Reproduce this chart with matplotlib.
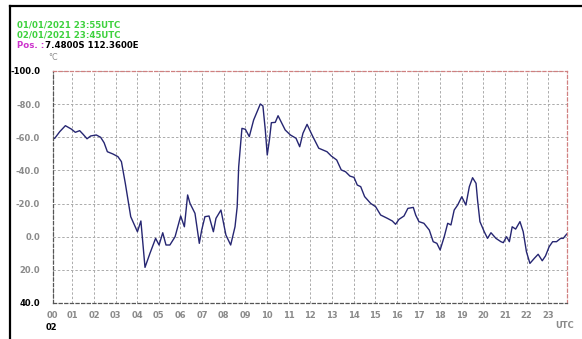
import matplotlib
matplotlib.use("Agg")
import matplotlib.pyplot as plt
from matplotlib.lines import Line2D

# ---- data ----
hours = [0.03, 0.19, 0.42, 0.68, 0.95, 1.14, 1.34, 1.50, 1.68, 1.85, 2.11, 2.31, 2.47, 2.62,
         2.88, 3.11, 3.27, 3.45, 3.70, 4.01, 4.17, 4.36, 4.59, 4.85, 5.01, 5.18, 5.33, 5.51,
         5.75, 6.01, 6.18, 6.33, 6.44, 6.67, 6.87, 6.98, 7.13, 7.32, 7.52, 7.64, 7.87, 8.10,
         8.32, 8.52, 8.62, 8.69, 8.84, 9.00, 9.18, 9.38, 9.69, 9.81, 9.92, 10.01, 10.11, 10.20,
         10.38, 10.51, 10.84, 11.08, 11.34, 11.51, 11.66, 11.85, 12.08, 12.39, 12.77, 12.97,
         13.22, 13.43, 13.63, 13.83, 14.02, 14.17, 14.33, 14.51, 14.79, 15.02, 15.25, 15.56,
         15.79, 15.94, 16.10, 16.33, 16.51, 16.76, 16.87, 17.02, 17.25, 17.50, 17.68, 17.85,
         18.00, 18.19, 18.35, 18.50, 18.65, 18.81, 19.00, 19.19, 19.35, 19.50, 19.66, 19.73,
         19.84, 20.04, 20.19, 20.35, 20.58, 20.81, 20.92, 21.07, 21.20, 21.33, 21.49, 21.69,
         21.84, 21.99, 22.15, 22.35, 22.53, 22.72, 22.87, 23.04, 23.20, 23.38, 23.57, 23.69,
         23.85]
temps = [-58.8, -59.4, -63.4, -67.0, -65.0, -63.0, -64.0, -61.8, -59.1, -60.8, -61.4, -60.0,
         -56.7, -51.3, -49.9, -48.3, -45.3, -32.2, -12.1, -3.0, -9.5, 18.5, 10.0, 1.0, 5.0,
         -2.4, 5.0, 5.0, 0.0, -12.5, -6.0, -25.2, -20.1, -14.1, 4.0, -4.0, -12.1, -12.5, -3.0,
         -11.1, -16.1, -1.0, 5.0, -6.0, -18.0, -42.2, -65.4, -64.8, -60.4, -70.4, -80.1, -78.9,
         -64.4, -49.3, -58.4, -68.8, -69.0, -73.0, -64.4, -61.4, -59.4, -54.3, -62.4, -67.8,
         -61.4, -53.4, -51.3, -48.7, -46.3, -40.3, -39.2, -36.6, -35.8, -31.2, -30.2, -24.2,
         -20.1, -18.1, -13.1, -11.1, -9.5, -7.5, -10.5, -12.5, -17.1, -17.7, -13.1, -9.1, -8.1,
         -4.0, 3.0, 4.0, 8.0, 0.0, -8.1, -7.1, -16.1, -19.1, -24.1, -19.1, -30.2, -35.6, -32.2,
         -22.1, -9.1, -3.0, 1.0, -2.4, 1.0, 3.0, 3.6, 0.0, 3.0, -6.0, -4.6, -9.1, -3.0, 9.1,
         16.1, 13.1, 10.6, 14.5, 11.6, 6.0, 3.0, 3.0, 1.0, 1.0, -1.6]

y_ticks = [-100, -80, -60, -40, -20, 0, 20, 40]
y_labels = ["-100.0", "-80.0", "-60.0", "-40.0", "-20.0", "0.0", "20.0", "40.0"]
hour_ticks = [0.094] + list(range(1, 24))
hour_labels = ["%02d" % h for h in range(24)]
header1 = "01/01/2021 23:55UTC"
header2 = "02/01/2021 23:45UTC"
pos_label = "Pos. :"
pos_value = "7.4800S 112.3600E"
unit = "°C"
day_label = "02"
tz_label = "UTC"

W, H = 582, 339
fig = plt.figure(figsize=(W / 100, H / 100), dpi=100)
fig.patch.set_facecolor("white")

L, R, T, B = 52.7, 566.7, 71, 303
ax = fig.add_axes([L / W, 1 - B / H, (R - L) / W, (B - T) / H])
ax.plot(hours, temps, color="#262672", lw=1.0)

ax.set_xlim(0.094, 23.85)
ax.set_ylim(40, -100)
ax.set_yticks(y_ticks)
ax.set_yticklabels(y_labels)
ax.set_xticks(hour_ticks)
ax.set_xticklabels(hour_labels)

gray = "#8a8a8a"
ax.tick_params(axis="both", length=0, labelsize=6.0)
ax.tick_params(axis="y", pad=9)
ax.tick_params(axis="x", pad=6)
for lab in ax.get_yticklabels():
    lab.set_fontweight("bold")
    lab.set_color(gray)
for lab in ax.get_xticklabels():
    lab.set_fontweight("bold")
    lab.set_color(gray)
ylabs = ax.get_yticklabels()
ylabs[0].set_color("black")
ylabs[-1].set_color("black")

ax.grid(True, color="#ababab", lw=0.7, ls=(0, (2.5, 2)))
for side in ["left", "bottom"]:
    ax.spines[side].set_color("#555555")
    ax.spines[side].set_linestyle((0, (2.5, 2)))
    ax.spines[side].set_linewidth(0.9)
for side in ["top", "right"]:
    ax.spines[side].set_color("#d08080")
    ax.spines[side].set_linestyle((0, (2.5, 2)))
    ax.spines[side].set_linewidth(0.9)

def fx(px):
    return px / W

def fy(py):
    return 1 - py / H

fs = 6.2
green = "#3ed13e"
fig.text(fx(16.7), fy(25), header1, color=green, fontsize=fs, fontweight="bold", va="center", ha="left")
fig.text(fx(16.7), fy(35), header2, color=green, fontsize=fs, fontweight="bold", va="center", ha="left")
t = fig.text(fx(16.7), fy(45), pos_label, color="#cc33cc", fontsize=fs, fontweight="bold",
             va="center", ha="left")
ax.annotate(pos_value, xy=(1, 0.5), xycoords=t, xytext=(0.5, 0), textcoords="offset points",
            color="black", fontsize=fs, fontweight="bold", va="center", ha="left",
            annotation_clip=False)
fig.text(fx(48), fy(57), unit, color=gray, fontsize=5.8, va="center", ha="left")
fig.text(fx(51), fy(327), day_label, color="black", fontsize=6.0, fontweight="bold", va="center", ha="center")
fig.text(fx(565), fy(326), tz_label, color=gray, fontsize=6.0, fontweight="bold", va="center", ha="center")

# outer frame
fig.add_artist(Line2D([fx(10), fx(582)], [fy(6), fy(6)], color="black", lw=1.6))
fig.add_artist(Line2D([fx(10), fx(10)], [fy(6), fy(339)], color="black", lw=1.6))

fig.savefig("out.png", dpi=100)
